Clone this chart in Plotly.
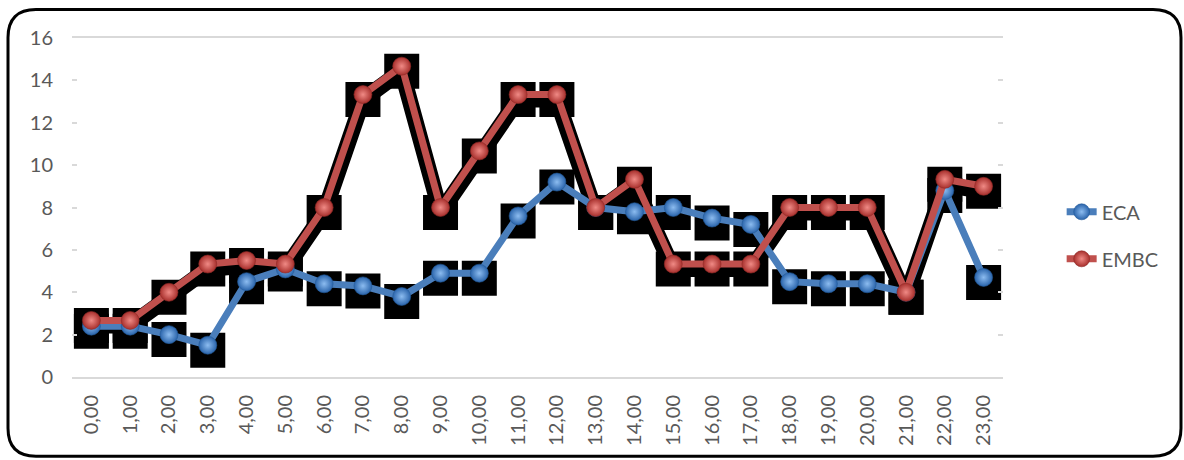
import plotly.graph_objects as go

# Hourly values for the two series
hours = ["0,00", "1,00", "2,00", "3,00", "4,00", "5,00", "6,00", "7,00",
         "8,00", "9,00", "10,00", "11,00", "12,00", "13,00", "14,00", "15,00",
         "16,00", "17,00", "18,00", "19,00", "20,00", "21,00", "22,00", "23,00"]
eca = [2.4, 2.4, 2.0, 1.5, 4.5, 5.1, 4.4, 4.3, 3.8, 4.9, 4.9, 7.6,
       9.2, 8.0, 7.8, 8.0, 7.5, 7.2, 4.5, 4.4, 4.4, 4.0, 8.8, 4.7]
embc = [2.67, 2.67, 4.0, 5.33, 5.5, 5.33, 8.0, 13.33, 14.67, 8.0, 10.67, 13.33,
        13.33, 8.0, 9.33, 5.33, 5.33, 5.33, 8.0, 8.0, 8.0, 4.0, 9.33, 9.0]
y_ticks = [0, 2, 4, 6, 8, 10, 12, 14, 16]

W, H = 1184, 460
M_L, M_R, M_T, M_B = 72, 181, 37.5, 82.5
PLOT_W = W - M_L - M_R
PLOT_H = H - M_T - M_B
Y_MAX = 16

# drop shadow: same data drawn on a copy of the y axis shifted a few pixels down
SHADOW_PX = 5
shift = SHADOW_PX * Y_MAX / PLOT_H

FONT = "Lato"
TXT = "#595959"
GRID = "#d9d9d9"
BLUE, BLUE_DK, BLUE_LT = "#4a7ebb", "#2a64ab", "#8cbcf0"
RED, RED_DK, RED_LT = "#c0504d", "#a8302d", "#f08a85"

fig = go.Figure()

# base subplot keeps the visible axes
fig.add_trace(go.Scatter(x=hours, y=eca, mode="none", showlegend=False,
                         hoverinfo="skip"))

# shadows (black squares behind markers, black band under the EMBC line)
fig.add_trace(go.Scatter(x=hours, y=eca, yaxis="y2", mode="markers",
                         marker=dict(symbol="square", size=35, color="black"),
                         showlegend=False, hoverinfo="skip"))
fig.add_trace(go.Scatter(x=hours, y=embc, yaxis="y2", mode="lines+markers",
                         line=dict(color="black", width=16),
                         marker=dict(symbol="square", size=35, color="black"),
                         showlegend=False, hoverinfo="skip"))

# series
fig.add_trace(go.Scatter(
    x=hours, y=eca, name="ECA", mode="lines+markers", legendgroup="a", yaxis="y3",
    line=dict(color=BLUE, width=7),
    marker=dict(size=18, color=BLUE_DK,
                gradient=dict(type="radial", color=BLUE_LT),
                line=dict(color="#245a99", width=0.6))))
fig.add_trace(go.Scatter(
    x=hours, y=embc, name="EMBC", mode="lines+markers", legendgroup="b", yaxis="y3",
    line=dict(color=RED, width=7),
    marker=dict(size=18, color=RED_DK,
                gradient=dict(type="radial", color=RED_LT),
                line=dict(color="#8e2a27", width=0.6))))


def px(x, y):
    return (x - M_L) / PLOT_W, (H - M_B - y) / PLOT_H


# rounded chart border
x0, y0, x1, y1, r = 8, 9, 1181, 457, 28
pts = [
    ("M", px(x0 + r, y0)), ("L", px(x1 - r, y0)), ("Q", px(x1, y0), px(x1, y0 + r)),
    ("L", px(x1, y1 - r)), ("Q", px(x1, y1), px(x1 - r, y1)),
    ("L", px(x0 + r, y1)), ("Q", px(x0, y1), px(x0, y1 - r)),
    ("L", px(x0, y0 + r)), ("Q", px(x0, y0), px(x0 + r, y0)),
]
path = ""
for seg in pts:
    cmd = seg[0]
    coords = " ".join(f"{a:.5f},{b:.5f}" for a, b in seg[1:])
    path += f"{cmd} {coords} "
path += "Z"

fig.update_layout(
    width=W, height=H,
    margin=dict(l=M_L, r=M_R, t=M_T, b=M_B),
    paper_bgcolor="white", plot_bgcolor="white",
    font=dict(family=FONT, size=20, color=TXT),
    xaxis=dict(type="category", range=[-0.5, len(hours) - 0.5],
               showgrid=False, showline=True, linecolor=GRID, linewidth=2,
               mirror=True, ticks="", tickangle=-90, ticklabelstandoff=8,
               tickfont=dict(family=FONT, size=20, color=TXT), zeroline=False),
    yaxis=dict(range=[0, Y_MAX], tickvals=y_ticks, showgrid=False, zeroline=False,
               ticks="inside", ticklen=5, tickwidth=2, tickcolor=GRID,
               mirror="ticks", showline=False, ticklabelstandoff=18,
               tickfont=dict(family=FONT, size=20, color=TXT)),
    yaxis2=dict(range=[shift, Y_MAX + shift], overlaying="y", visible=False),
    yaxis3=dict(range=[0, Y_MAX], overlaying="y", visible=False),
    legend=dict(x=1.063, xanchor="left", y=0.418, yanchor="middle",
                font=dict(family=FONT, size=20, color=TXT),
                tracegroupgap=18, bgcolor="rgba(0,0,0,0)"),
    shapes=[dict(type="path", xref="paper", yref="paper", path=path,
                 line=dict(color="black", width=3), layer="above")],
    showlegend=True,
)

fig.write_html("out.html")
